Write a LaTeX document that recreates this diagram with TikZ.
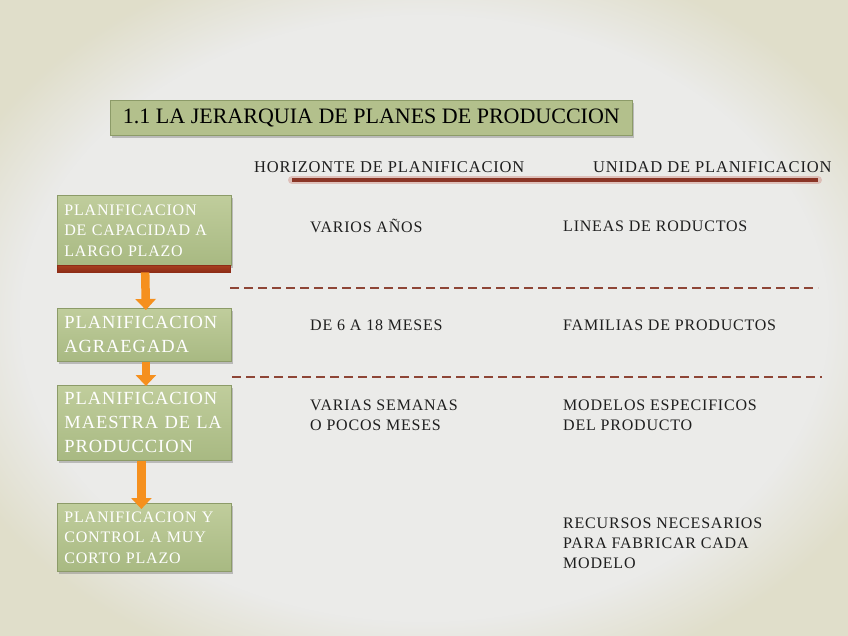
\documentclass[tikz,border=0pt]{standalone}
\usepackage{fontspec}
\setmainfont{Liberation Serif}
\newfontfamily\spaced{Liberation Serif}[LetterSpace=5]
\usetikzlibrary{shadows,arrows.meta,fadings}
\definecolor{bgin}{HTML}{EBEBE9}
\definecolor{bgout}{HTML}{E0DECA}
\definecolor{boxtop}{HTML}{C0CD9C}
\definecolor{boxbot}{HTML}{A8B982}
\definecolor{boxline}{HTML}{8C9B68}
\definecolor{titlefill}{HTML}{B3C08C}
\definecolor{barred}{HTML}{8E2D17}
\definecolor{barred2}{HTML}{A8401F}
\definecolor{arrorange}{HTML}{F5901E}
\definecolor{lineRed}{HTML}{8A3526}
\definecolor{glow}{HTML}{D6A49C}
\definecolor{dashRed}{HTML}{8E4536}
\definecolor{txt}{HTML}{1E1E1E}
\tikzset{
  greenbox/.style={draw=boxline, line width=0.8pt, top color=boxtop, bottom color=boxbot,
    drop shadow={shadow xshift=2pt, shadow yshift=-2.5pt, opacity=0.45},
    minimum width=173pt, text width=160pt, align=left, inner xsep=7pt, text=white, anchor=north west},
  smallbox/.style={greenbox, font=\spaced\fontsize{16}{20.5}\selectfont},
  bigbox/.style={greenbox, font=\spaced\fontsize{18.5}{24}\selectfont},
  rowtext/.style={anchor=west, inner sep=0pt, align=left, text=txt, font=\spaced\fontsize{16}{20}\selectfont},
  headtext/.style={anchor=west, inner sep=0pt, text=txt, font=\spaced\fontsize{16.5}{20}\selectfont},
  flowarrow/.style={draw=arrorange, line width=8.5pt, -{Triangle[width=20pt,length=11pt]}, arrorange},
  sepline/.style={draw=dashRed, line width=2.2pt, dash pattern=on 9pt off 5pt}
}
\begin{document}
\begin{tikzpicture}[x=1pt,y=-1pt]
\useasboundingbox (0,0) rectangle (848,636);
\begin{scope}
\clip (0,0) rectangle (848,636);
\fill[bgout] (0,0) rectangle (848,636);
\fill[bgin, path fading=circle with fuzzy edge 20 percent] (-80,-60) rectangle (928,696);
\end{scope}

% title
\node[draw=boxline, line width=0.8pt, fill=titlefill, minimum width=522pt, minimum height=35pt,
  drop shadow={shadow xshift=2pt, shadow yshift=-2.5pt, opacity=0.45},
  font=\fontsize{22}{26}\selectfont, text=black, anchor=north west] (title) at (110,100)
  {1.1 LA JERARQUIA DE PLANES DE PRODUCCION};

% headings
\node[headtext] (h1) at (254,167) {HORIZONTE DE PLANIFICACION};
\node[headtext] (h2) at (593,167) {UNIDAD DE PLANIFICACION};
\coordinate (ul1) at (292,180);
\coordinate (ul2) at (818,180);
\draw[glow, line width=8pt, opacity=0.6, line cap=round] (ul1) -- (ul2);
\draw[lineRed, line width=3.5pt] (ul1) -- (ul2);

% boxes
\node[smallbox, minimum height=70pt] (b1) at (57,195)
  {PLANIFICACION\\DE CAPACIDAD A\\LARGO PLAZO};
\node[draw=barred, top color=barred2, bottom color=barred, minimum width=173pt,
  minimum height=7pt, inner sep=0pt, anchor=north west] (bar) at (57,265) {};
\node[bigbox, minimum height=53pt] (b2) at (57,308)
  {PLANIFICACION\\AGRAEGADA};
\node[bigbox, minimum height=75pt] (b3) at (57,385)
  {PLANIFICACION\\MAESTRA DE LA\\PRODUCCION};
\node[smallbox, minimum height=68pt] (b4) at (57,503)
  {PLANIFICACION Y\\CONTROL A MUY\\CORTO PLAZO};

% arrows
\draw[flowarrow] ([xshift=1.5pt]bar.south) -- ([xshift=1.5pt,yshift=-2pt]b2.north);
\draw[flowarrow] ([xshift=1.5pt]b2.south) -- ([xshift=1.5pt,yshift=-1pt]b3.north);
\draw[flowarrow] ([xshift=-3pt]b3.south) -- ([xshift=-3pt,yshift=-6pt]b4.north);

% separators
\coordinate (d1a) at (230,288);
\coordinate (d1b) at (818,288);
\coordinate (d2a) at (232,377);
\coordinate (d2b) at (822,377);
\draw[sepline] (d1a) -- (d1b);
\draw[sepline] (d2a) -- (d2b);

% rows
\node[rowtext] (r1a) at (310,226) {VARIOS AÑOS};
\node[rowtext] (r1b) at (563,226) {LINEAS DE RODUCTOS};
\node[rowtext] (r2a) at (310,325) {DE 6 A 18 MESES};
\node[rowtext] (r2b) at (563,325) {FAMILIAS DE PRODUCTOS};
\node[rowtext] (r3a) at (310,415) {VARIAS SEMANAS\\O POCOS MESES};
\node[rowtext] (r3b) at (563,415) {MODELOS ESPECIFICOS\\DEL PRODUCTO};
\node[rowtext] (r4b) at (563,543) {RECURSOS NECESARIOS\\PARA FABRICAR CADA\\MODELO};
\end{tikzpicture}
\end{document}
